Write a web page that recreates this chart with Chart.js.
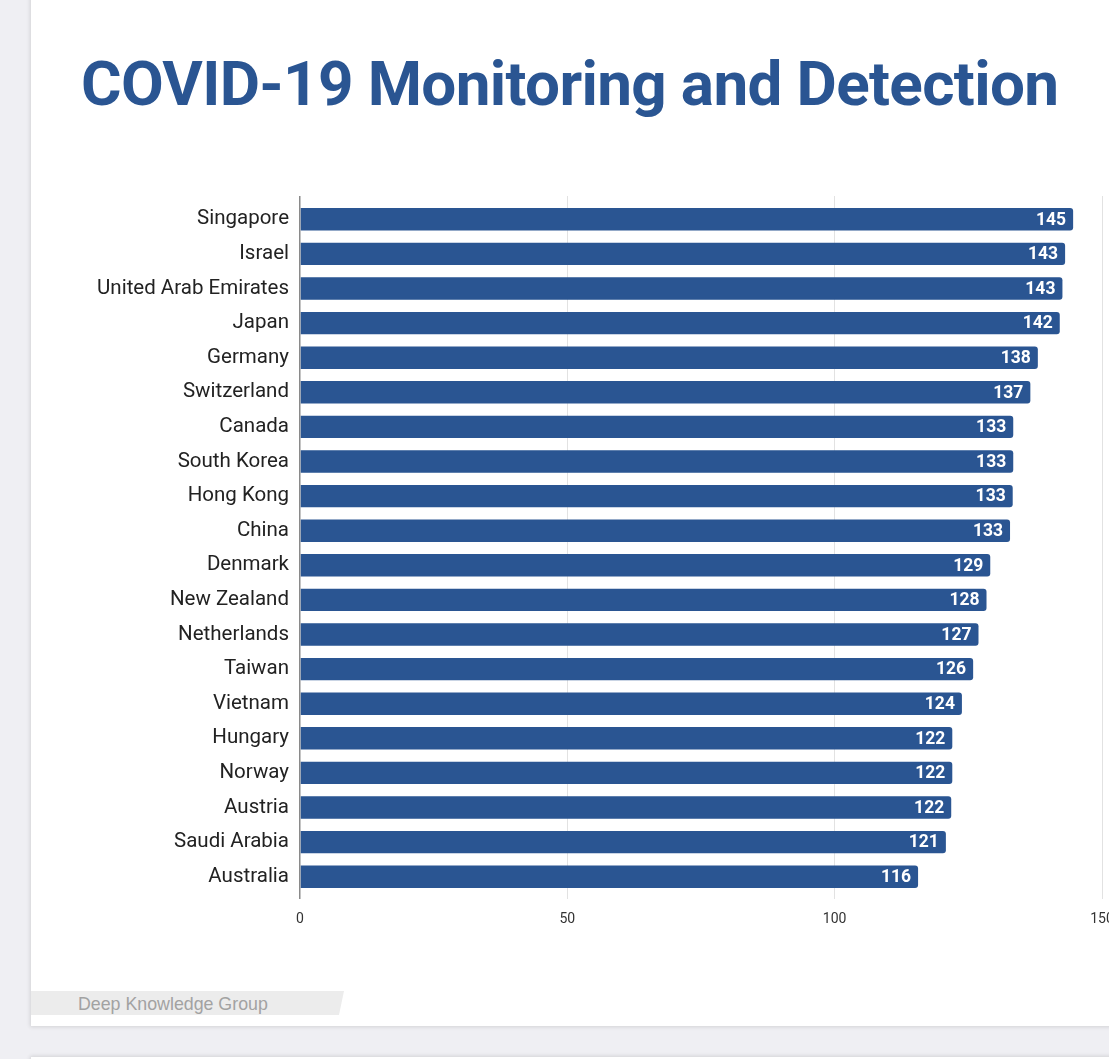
<!DOCTYPE html>
<html>
<head>
<meta charset="utf-8">
<script src="https://cdn.jsdelivr.net/npm/chart.js@4"></script>
<style>
  html, body { margin: 0; padding: 0; overflow: hidden; }
  body { width: 1109px; height: 1059px; background: #efeff3; position: relative; font-family: Roboto, sans-serif; }
  .card { position: absolute; left: 31px; top: -20px; width: 1200px; height: 1046px; background: #fff;
          box-shadow: -1px 1px 4px rgba(0,0,0,0.12); }
  .card2 { position: absolute; left: 31px; top: 1057px; width: 1200px; height: 100px; background: #fff;
           box-shadow: -1px -1px 4px rgba(0,0,0,0.12); }
  h1 { position: absolute; left: 81px; top: 46px; margin: 0; font: 700 62px Roboto, sans-serif;
       letter-spacing: -0.65px; color: #2a5592; white-space: nowrap; line-height: 76px; }
  .chart-box { position: absolute; left: 0; top: 150px; width: 1140px; height: 800px; }
  .tag { position: absolute; left: 31px; top: 991px; width: 313px; height: 24px; background: #ececec;
         clip-path: polygon(0 0, 100% 0, 98.4% 100%, 0 100%); }
  .tag span { position: absolute; left: 47px; top: 3px; font: 17.8px "Liberation Sans", Arial, sans-serif; color: #a2a2a2; }
</style>
</head>
<body>
<div class="card"></div>
<div class="card2"></div>
<h1>COVID-19 Monitoring and Detection</h1>
<div class="chart-box"><canvas id="myChart"></canvas></div>
<div class="tag"><span>Deep Knowledge Group</span></div>
<script>
const countries = ['Singapore', 'Israel', 'United Arab Emirates', 'Japan', 'Germany', 'Switzerland',
  'Canada', 'South Korea', 'Hong Kong', 'China', 'Denmark', 'New Zealand', 'Netherlands', 'Taiwan',
  'Vietnam', 'Hungary', 'Norway', 'Austria', 'Saudi Arabia', 'Australia'];
const scores = [144.6, 143.1, 142.6, 142.1, 138.0, 136.6, 133.4, 133.4, 133.3, 132.8,
  129.1, 128.4, 126.9, 125.9, 123.8, 122.0, 122.0, 121.8, 120.8, 115.6];
const xTicks = [0, 50, 100, 150];

const barColor = '#2a5592';

Chart.defaults.font.family = 'Roboto';

// white numbers at the end of each bar
const valueLabels = {
  id: 'valueLabels',
  afterDatasetsDraw(chart) {
    const ctx = chart.ctx;
    const meta = chart.getDatasetMeta(0);
    ctx.save();
    ctx.font = 'bold 17.5px Roboto';
    ctx.fillStyle = '#ffffff';
    ctx.textAlign = 'right';
    ctx.textBaseline = 'middle';
    meta.data.forEach((bar, i) => {
      ctx.fillText(Math.round(scores[i]), bar.x - 7, bar.y + 1);
    });
    ctx.restore();
  }
};

const gridColor = ctx => ctx.tick && ctx.tick.value === 0 ? '#8a8a8a' : '#e2e2e2';
const gridWidth = ctx => ctx.tick && ctx.tick.value === 0 ? 1.5 : 1;

const myChart = new Chart(document.getElementById('myChart'), {
  type: 'bar',
  data: {
    labels: countries,
    datasets: [{
      data: scores,
      backgroundColor: barColor,
      borderRadius: 3,
      barPercentage: 0.72,
      categoryPercentage: 0.9
    }]
  },
  options: {
    indexAxis: 'y',
    responsive: true,
    maintainAspectRatio: false,
    animation: false,
    layout: { padding: { left: 0, right: 38, top: 0, bottom: 0 } },
    plugins: { legend: { display: false }, tooltip: { enabled: false } },
    scales: {
      x: {
        position: 'bottom',
        min: 0, max: 150,
        afterBuildTicks: s => { s.ticks = xTicks.map(v => ({ value: v })); },
        afterFit: s => { s.height = 56; },
        grid: { color: gridColor, lineWidth: gridWidth, tickLength: 5 },
        border: { display: false },
        ticks: { color: '#333', font: { size: 14 }, padding: 12 }
      },
      x2: {
        position: 'top',
        axis: 'x',
        min: 0, max: 150,
        afterBuildTicks: s => { s.ticks = xTicks.map(v => ({ value: v })); },
        afterFit: s => { s.height = 52; },
        grid: { color: gridColor, lineWidth: gridWidth, drawOnChartArea: false, tickLength: 6 },
        border: { display: false },
        ticks: { display: false }
      },
      y: {
        afterFit: s => { s.width = 300; },
        grid: { display: false, drawTicks: false },
        border: { display: false },
        ticks: { color: '#222', font: { size: 20.5 }, padding: 11 }
      }
    }
  },
  plugins: [valueLabels]
});
</script>
</body>
</html>
